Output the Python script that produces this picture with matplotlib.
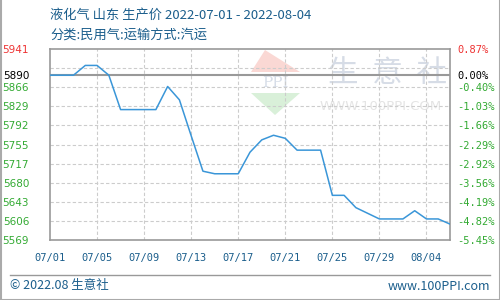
import matplotlib
matplotlib.use('Agg')
import matplotlib.pyplot as plt
from matplotlib.patches import Polygon
from matplotlib.lines import Line2D

plt.rcParams['font.family'] = ['Noto Sans CJK SC', 'DejaVu Sans']

# daily prices 07/01 .. 08/04 (yuan/ton)
dates = ['07/01', '07/02', '07/03', '07/04', '07/05', '07/06', '07/07', '07/08',
         '07/09', '07/10', '07/11', '07/12', '07/13', '07/14', '07/15', '07/16',
         '07/17', '07/18', '07/19', '07/20', '07/21', '07/22', '07/23', '07/24',
         '07/25', '07/26', '07/27', '07/28', '07/29', '07/30', '07/31', '08/01',
         '08/02', '08/03', '08/04']
prices = [5890, 5890, 5890, 5909, 5909, 5890, 5823, 5823,
          5823, 5823, 5868, 5842, 5772, 5703, 5698, 5698,
          5698, 5740, 5764, 5773, 5767, 5744, 5744, 5744,
          5656, 5656, 5632, 5621, 5610, 5610, 5610, 5626,
          5610, 5610, 5600]

base_price = 5890
y_ticks = [5569, 5606.2, 5643.4, 5680.6, 5717.8, 5755, 5792.2, 5829.4, 5866.6, 5903.8, 5941]
y_labels = ['5569', '5606', '5643', '5680', '5717', '5755', '5792', '5829', '5866', '', '5941']
pct_labels = ['-5.45%', '-4.82%', '-4.19%', '-3.56%', '-2.92%', '-2.29%', '-1.66%',
              '-1.03%', '-0.40%', '', '0.87%']
x_tick_idx = [0, 4, 8, 12, 16, 20, 24, 28, 32]
x_tick_labels = ['07/01', '07/05', '07/09', '07/13', '07/17', '07/21', '07/25', '07/29', '08/04']

title = '液化气 山东 生产价 2022-07-01 - 2022-08-04'
subtitle = '分类:民用气:运输方式:汽运'

blue_txt = '#1b5e8c'
green = '#33aa33'
red = '#ee3333'
grid_c = '#cccccc'
frame_c = '#999999'

fig = plt.figure(figsize=(5, 3), dpi=100)
W, H = 500.0, 300.0
def fx(px): return px / W
def fy(py): return 1 - py / H

ax = fig.add_axes([fx(50), fy(240), fx(400), 191 / H])
ax.patch.set_visible(False)

x = list(range(len(dates)))
ax.plot(x, prices, color='#3a96d8', lw=1.1, zorder=3)
ax.set_xlim(0, len(dates) - 1)
ax.set_ylim(y_ticks[0], y_ticks[-1])

# grid
for yv in y_ticks[1:-1]:
    ax.axhline(yv, color=grid_c, lw=0.8, ls=(0, (3, 2)), zorder=1)
for xv in x_tick_idx[1:]:
    ax.axvline(xv, color=grid_c, lw=0.8, ls=(0, (3, 2)), zorder=1)
ax.axhline(base_price, color=frame_c, lw=1.5, zorder=2)

for s in ax.spines.values():
    s.set_color(frame_c)
    s.set_linewidth(1.2)

# left labels
ticks_l = y_ticks[:-2] + [base_price, y_ticks[-1]]
labels_l = y_labels[:-2] + [str(base_price), y_labels[-1]]
ax.set_yticks(ticks_l)
ax.set_yticklabels(labels_l, family='DejaVu Sans', fontsize=7.5)
for lab in ax.get_yticklabels():
    t = lab.get_text()
    lab.set_color(red if t == '5941' else ('black' if t == '5890' else green))
ax.tick_params(axis='y', length=0, pad=15)

ax.set_xticks(x_tick_idx)
ax.set_xticklabels(x_tick_labels, family='DejaVu Sans Mono', fontsize=7.5, color=blue_txt)
ax.tick_params(axis='x', length=0, pad=9)

# right percent labels
ax2 = ax.twinx()
ax2.set_ylim(ax.get_ylim())
pct_l = pct_labels[:-2] + ['0.00%', pct_labels[-1]]
ax2.set_yticks(ticks_l)
ax2.set_yticklabels(pct_l, family='DejaVu Sans Mono', fontsize=7.5)
for lab in ax2.get_yticklabels():
    t = lab.get_text()
    lab.set_color(red if t == '0.87%' else ('black' if t == '0.00%' else green))
ax2.tick_params(axis='y', length=0, pad=5)
for s in ax2.spines.values():
    s.set_visible(False)

# watermark logo
fig.patches.append(Polygon([[fx(265), fy(50)], [fx(251), fy(72)], [fx(300), fy(72)]],
                           closed=True, transform=fig.transFigure, fc='#fad8d4', ec='none', zorder=-2))
fig.patches.append(Polygon([[fx(251), fy(93)], [fx(300), fy(93)], [fx(275), fy(115)]],
                           closed=True, transform=fig.transFigure, fc='#d9f0d9', ec='none', zorder=-2))
fig.text(fx(275), fy(83), 'PPI', color='#d6dde8', fontsize=11, ha='center', va='center',
         family='DejaVu Serif', zorder=-2)
fig.text(fx(387), fy(73), '生  意  社', color='#d6dce6', fontsize=22, ha='center', va='center',
         zorder=-2)
fig.text(fx(381), fy(107), 'WWW.100PPI.COM', color='#e4e4e4', fontsize=9.5, ha='center',
         va='center', family='DejaVu Sans', zorder=-2)

# titles
fig.text(fx(50), fy(15), title, color=blue_txt, fontsize=9.5, ha='left', va='center')
fig.text(fx(50), fy(35), subtitle, color=blue_txt, fontsize=9.5, ha='left', va='center')

# footer
fig.add_artist(Line2D([fx(10), fx(490)], [fy(275), fy(275)], color=frame_c, lw=1,
                      transform=fig.transFigure))
fig.text(fx(10), fy(286), '© 2022.08 生意社', color=blue_txt, fontsize=9, ha='left', va='center')
fig.text(fx(490), fy(286), 'www.100PPI.com', color=blue_txt, fontsize=9, ha='right', va='center')

# outer border
for xs, ys in [([0.5, 0.5], [0, 300]), ([499.5, 499.5], [0, 300]), ([0, 500], [299.5, 299.5])]:
    fig.add_artist(Line2D([fx(v) for v in xs], [fy(v) for v in ys], color='#aaaaaa', lw=1.5,
                          transform=fig.transFigure))

fig.savefig('out.png', dpi=100)
